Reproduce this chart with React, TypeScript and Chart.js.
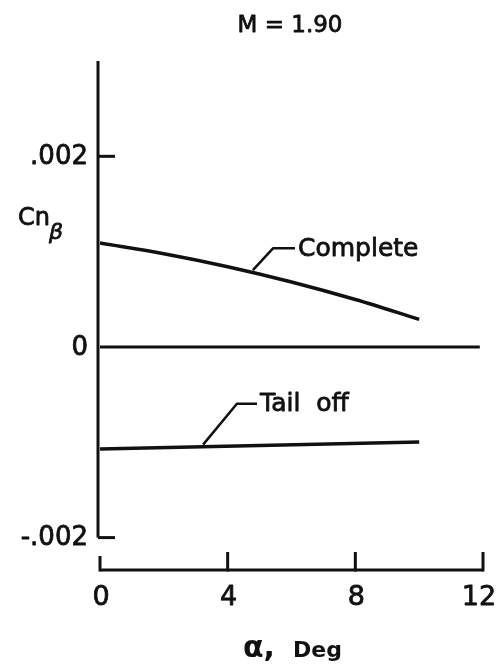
import React, { useEffect, useRef } from "react";
import { Chart, registerables } from "chart.js";

Chart.register(...registerables);

// ---- data ----
const xTickValues = [0, 4, 8, 12];
const xTickLabels = ["0", "4", "8", "12"];
const yTickValues = [0.002, 0, -0.002];
const yTickLabels = [".002", "0", "-.002"];

const completeAlpha = [0, 2, 4, 6, 8, 10];
const completeCn = [0.00109, 0.000978, 0.000842, 0.000682, 0.000498, 0.00029];

const tailOffAlpha = [0, 10];
const tailOffCn = [-0.00107, -0.000997];

const zeroAlpha = [0, 11.9];
const zeroCn = [0, 0];

// leader lines (data coordinates): start on curve, elbow, end
const completeLeaderAlpha = [4.79, 5.42, 6.11];
const completeLeaderCn = [0.000806, 0.001035, 0.001035];
const tailLeaderAlpha = [3.23, 4.29, 4.92];
const tailLeaderCn = [-0.001025, -0.000596, -0.000596];

const FONT = '"DejaVu Sans", "Liberation Sans", sans-serif';
const INK = "#111";

const pts = (xs: number[], ys: number[]) => xs.map((x, i) => ({ x, y: ys[i] }));

const drawPlugin = {
  id: "paperAxes",
  afterDraw(chart: any) {
    const { ctx } = chart;
    const xs = chart.scales.x;
    const ys = chart.scales.y;
    const text = (s: string, x: number, y: number, w = 0.8) => {
      ctx.fillText(s, x, y);
      ctx.lineWidth = w;
      ctx.strokeText(s, x, y);
    };
    ctx.save();
    ctx.strokeStyle = INK;
    ctx.fillStyle = INK;
    ctx.lineCap = "butt";
    ctx.lineJoin = "round";
    ctx.lineWidth = 3;

    const x0 = xs.getPixelForValue(0);
    const yAxisX = x0 - 2;
    // y axis
    ctx.beginPath();
    ctx.moveTo(yAxisX, ys.getPixelForValue(0.003));
    ctx.lineTo(yAxisX, ys.getPixelForValue(-0.002));
    ctx.stroke();
    // y ticks (inward)
    yTickValues.forEach((v) => {
      if (v === 0) return;
      const py = ys.getPixelForValue(v);
      ctx.beginPath();
      ctx.moveTo(yAxisX, py);
      ctx.lineTo(yAxisX + 17, py);
      ctx.stroke();
    });

    // x axis
    const axisY = ys.getPixelForValue(ys.min);
    ctx.beginPath();
    ctx.moveTo(xs.getPixelForValue(0), axisY);
    ctx.lineTo(xs.getPixelForValue(12), axisY);
    ctx.stroke();
    xTickValues.forEach((v) => {
      const px = xs.getPixelForValue(v);
      ctx.beginPath();
      ctx.moveTo(px, axisY + 1.5);
      ctx.lineTo(px, axisY - (v === 0 ? 14 : 18));
      ctx.stroke();
    });

    // leader lines
    ctx.lineWidth = 2.5;
    [
      [completeLeaderAlpha, completeLeaderCn],
      [tailLeaderAlpha, tailLeaderCn],
    ].forEach(([ax, cy]) => {
      ctx.beginPath();
      ax.forEach((a: number, i: number) => {
        const px = xs.getPixelForValue(a);
        const py = ys.getPixelForValue(cy[i]);
        if (i === 0) ctx.moveTo(px, py);
        else ctx.lineTo(px, py);
      });
      ctx.stroke();
    });

    // y tick labels
    ctx.font = `26px ${FONT}`;
    ctx.textAlign = "right";
    ctx.textBaseline = "middle";
    yTickValues.forEach((v, i) => {
      text(yTickLabels[i], 88, ys.getPixelForValue(v) + 1);
    });

    // x tick labels
    ctx.font = `27px ${FONT}`;
    ctx.textAlign = "center";
    ctx.textBaseline = "alphabetic";
    xTickValues.forEach((v, i) => {
      let px = xs.getPixelForValue(v);
      if (v === 12) px -= 5;
      text(xTickLabels[i], px + 1, axisY + 35);
    });

    // curve labels
    ctx.font = `25px ${FONT}`;
    ctx.textAlign = "left";
    ctx.textBaseline = "middle";
    text(
      "Complete",
      xs.getPixelForValue(completeLeaderAlpha[2]) + 3,
      ys.getPixelForValue(completeLeaderCn[2]) + 1
    );
    text(
      "Tail  off",
      xs.getPixelForValue(tailLeaderAlpha[2]) + 3,
      ys.getPixelForValue(tailLeaderCn[2]) + 1
    );

    // title
    ctx.font = `23px ${FONT}`;
    ctx.textAlign = "center";
    ctx.textBaseline = "alphabetic";
    text("M = 1.90", 290, 32);

    // y axis label Cn_beta
    ctx.textAlign = "left";
    ctx.font = `24px ${FONT}`;
    text("Cn", 18, 225);
    ctx.font = `italic 22px ${FONT}`;
    text("β", 49, 239);

    // x axis label
    ctx.font = `bold 30px ${FONT}`;
    ctx.fillText("α,", 243, 657);
    ctx.font = `bold 22px ${FONT}`;
    ctx.fillText("Deg", 293, 657);

    ctx.restore();
  },
};

export default function App() {
  const ref = useRef<HTMLCanvasElement | null>(null);
  useEffect(() => {
    document.body.style.margin = "0";
    if (!ref.current) return;
    const line = {
      borderColor: INK,
      borderWidth: 3.5,
      pointRadius: 0,
      fill: false,
    };
    const chart = new Chart(ref.current, {
      type: "line",
      data: {
        datasets: [
          {
            ...line,
            label: "Complete",
            data: pts(completeAlpha, completeCn),
            cubicInterpolationMode: "monotone",
          },
          { ...line, label: "Tail off", data: pts(tailOffAlpha, tailOffCn) },
          { ...line, label: "zero", borderWidth: 3, data: pts(zeroAlpha, zeroCn) },
        ],
      },
      options: {
        responsive: false,
        animation: false,
        layout: { padding: { left: 100, right: 15, top: 61, bottom: 99 } },
        plugins: { legend: { display: false }, tooltip: { enabled: false }, title: { display: false } },
        scales: {
          x: { type: "linear", min: 0, max: 12, display: false },
          y: { type: "linear", min: -0.00234, max: 0.003, display: false },
        },
      },
      plugins: [drawPlugin],
    } as any);
    return () => chart.destroy();
  }, []);
  return (
    <canvas
      ref={ref}
      width={498}
      height={669}
      style={{ display: "block", width: 498, height: 669 }}
    />
  );
}
